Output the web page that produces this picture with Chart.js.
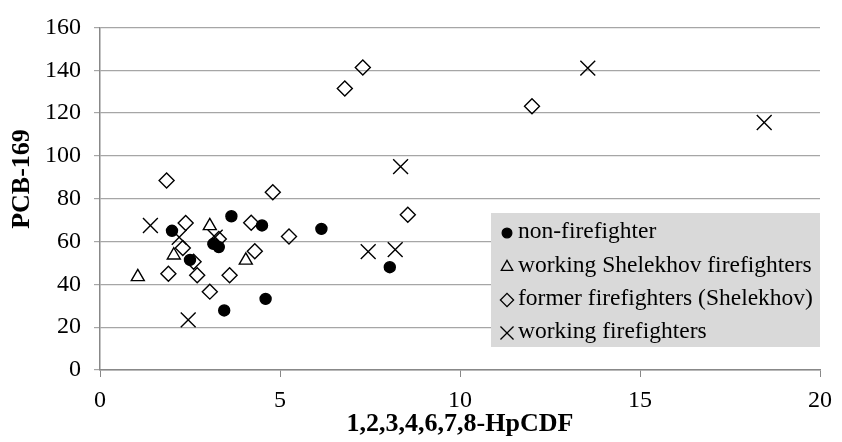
<!DOCTYPE html>
<html lang="en">
<head>
    <meta charset="UTF-8">
    <title>PCB-169 vs 1,2,3,4,6,7,8-HpCDF</title>
    <script src="https://cdn.jsdelivr.net/npm/chart.js"></script>
    <style>
        html, body { margin: 0; padding: 0; background: #fff; }
        #wrap { width: 842px; height: 442px; }
    </style>
</head>
<body>
    <div id="wrap">
        <canvas id="myChart" width="842" height="442"></canvas>
    </div>

    <script>
        // series labels (legend order)
        const seriesNames = [
            'non-firefighter',
            'working Shelekhov firefighters',
            'former firefighters (Shelekhov)',
            'working firefighters'
        ];

        // values
        const nonFirefighterX = [2.0, 2.5, 3.15, 3.3, 3.45, 3.65, 4.5, 4.6, 6.15, 8.05];
        const nonFirefighterY = [65.0, 51.4, 58.9, 57.4, 27.8, 71.8, 67.5, 33.2, 65.9, 48.0];

        const shelekhovX = [1.05, 2.05, 3.05, 4.05];
        const shelekhovY = [43.5, 53.6, 67.3, 51.2];

        const formerX = [1.85, 1.9, 2.3, 2.38, 2.6, 2.7, 3.05, 3.3, 3.6, 4.2, 4.3, 4.8, 5.25, 6.8, 7.3, 8.55, 12.0];
        const formerY = [88.5, 44.9, 57.0, 68.7, 50.6, 44.3, 36.6, 61.2, 44.3, 68.8, 55.5, 83.0, 62.4, 131.5, 141.3, 72.5, 123.2];

        const workingX = [1.4, 2.2, 2.45, 3.2, 7.45, 8.2, 8.35, 13.55, 18.45];
        const workingY = [67.5, 62.0, 23.4, 62.0, 55.3, 56.2, 95.0, 141.0, 115.6];

        const xTitle = '1,2,3,4,6,7,8-HpCDF';
        const yTitle = 'PCB-169';

        const serif = '"Liberation Serif", "Times New Roman", serif';

        function toPoints(xs, ys) {
            return xs.map((x, i) => ({ x: x, y: ys[i] }));
        }

        const markerStyles = [
            { pointStyle: 'circle', radius: 5.5, fill: '#000' },
            { pointStyle: 'triangle', radius: 7.5, fill: 'rgba(0,0,0,0)' },
            { pointStyle: 'rectRot', radius: 7.5, fill: 'rgba(0,0,0,0)' },
            { pointStyle: 'crossRot', radius: 10.5, fill: 'rgba(0,0,0,0)' }
        ];

        const seriesData = [
            toPoints(nonFirefighterX, nonFirefighterY),
            toPoints(shelekhovX, shelekhovY),
            toPoints(formerX, formerY),
            toPoints(workingX, workingY)
        ];

        const datasets = seriesNames.map((name, i) => ({
            label: name,
            data: seriesData[i],
            pointStyle: markerStyles[i].pointStyle,
            pointRadius: markerStyles[i].radius,
            pointBackgroundColor: markerStyles[i].fill,
            pointBorderColor: '#000',
            pointBorderWidth: 1.4,
            showLine: false
        }));

        // legend box inside the plot + rotated y title
        const boxLegend = {
            id: 'boxLegend',
            afterDraw(chart) {
                const ctx = chart.ctx;
                ctx.save();
                ctx.fillStyle = '#d9d9d9';
                ctx.fillRect(491, 213, 329, 134);

                const rows = [232, 266, 299, 332];
                ctx.font = '23.5px ' + serif;
                ctx.textBaseline = 'middle';
                ctx.textAlign = 'left';
                seriesNames.forEach((name, i) => {
                    const m = markerStyles[i];
                    ctx.strokeStyle = '#000';
                    ctx.fillStyle = m.fill;
                    ctx.lineWidth = 1.3;
                    Chart.helpers.drawPoint(ctx, {
                        pointStyle: m.pointStyle,
                        radius: m.radius * 0.88,
                        rotation: 0,
                        borderWidth: 1.3
                    }, 507, rows[i] + 1);
                    ctx.fillStyle = '#000';
                    ctx.fillText(name, 518, rows[i]);
                });

                ctx.translate(22, 179);
                ctx.rotate(-Math.PI / 2);
                ctx.font = 'bold 26px ' + serif;
                ctx.textAlign = 'center';
                ctx.fillStyle = '#000';
                ctx.fillText(yTitle, 0, 0);
                ctx.restore();
            }
        };

        new Chart(document.getElementById('myChart').getContext('2d'), {
            type: 'scatter',
            data: { datasets: datasets },
            options: {
                responsive: false,
                animation: false,
                devicePixelRatio: 1,
                layout: { padding: { top: 17, right: 22, left: 0, bottom: 0 } },
                plugins: {
                    legend: { display: false },
                    tooltip: { enabled: false }
                },
                scales: {
                    x: {
                        type: 'linear',
                        min: 0,
                        max: 20,
                        afterFit(scale) { scale.height = 72; },
                        ticks: {
                            stepSize: 5,
                            color: '#000',
                            padding: 9,
                            maxRotation: 0,
                            font: { family: serif, size: 24 }
                        },
                        grid: {
                            drawOnChartArea: false,
                            drawTicks: true,
                            tickLength: 7,
                            color: '#888'
                        },
                        border: { color: '#888', width: 1.5 },
                        title: {
                            display: true,
                            text: xTitle,
                            color: '#000',
                            padding: { top: 0, bottom: 2 },
                            font: { family: serif, size: 26, weight: 'bold' }
                        }
                    },
                    y: {
                        type: 'linear',
                        min: 0,
                        max: 160,
                        afterFit(scale) { scale.width = 100; },
                        ticks: {
                            stepSize: 20,
                            color: '#000',
                            padding: 13,
                            font: { family: serif, size: 24 }
                        },
                        grid: {
                            color: '#a6a6a6',
                            lineWidth: 1.2,
                            drawTicks: true,
                            tickLength: 6
                        },
                        border: { color: '#888', width: 1.5 }
                    }
                }
            },
            plugins: [boxLegend]
        });
    </script>
</body>
</html>
